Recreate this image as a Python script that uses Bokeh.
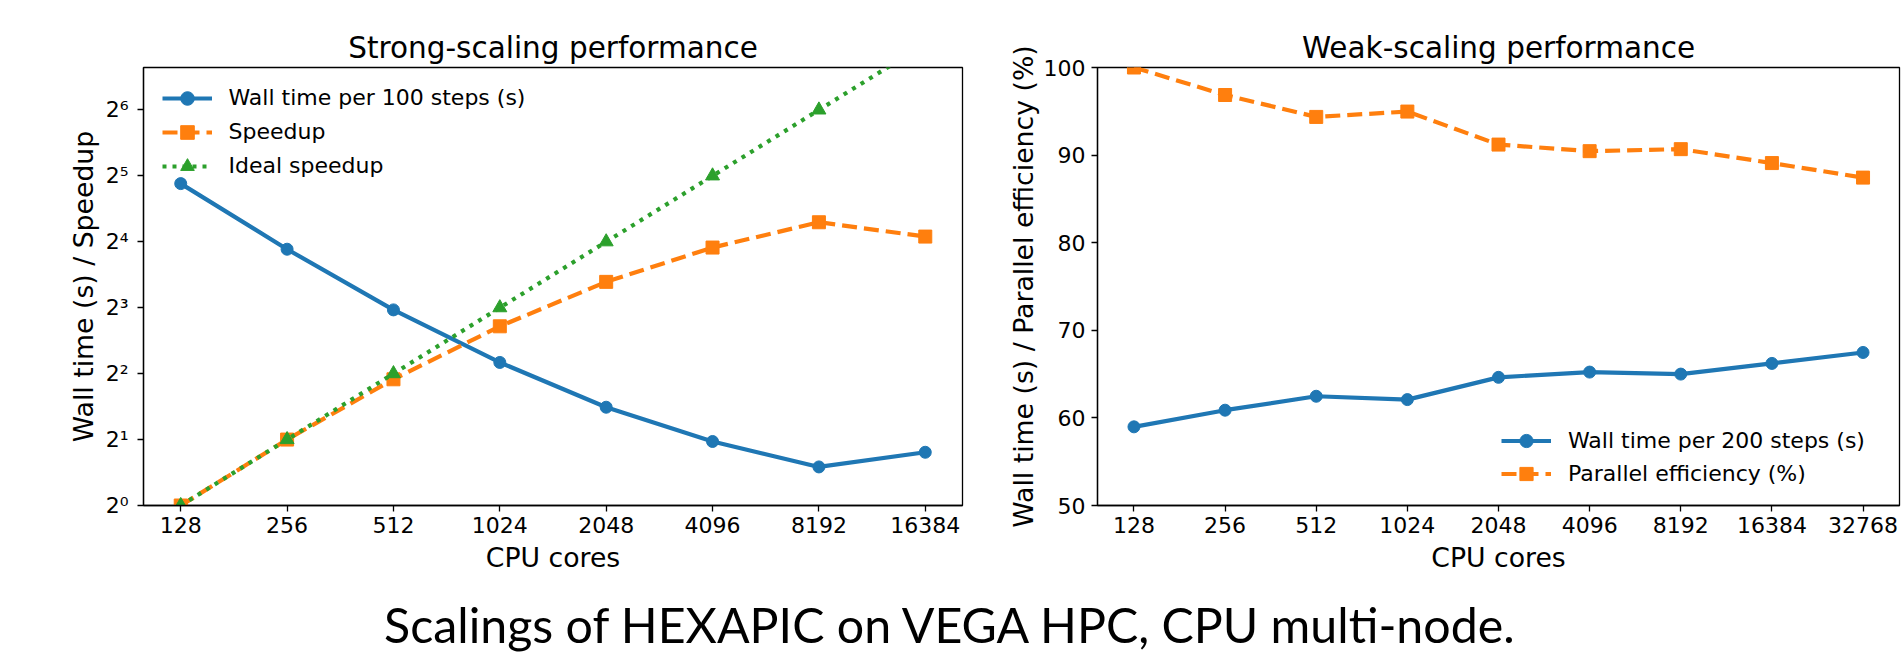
from bokeh.plotting import figure
from bokeh.layouts import row, column
from bokeh.models import (Range1d, FixedTicker, CustomJSTickFormatter, Legend,
                          LegendItem, Label)
from bokeh.embed import file_html
from bokeh.resources import INLINE

# ---------------- data ----------------
strong_cores = [128, 256, 512, 1024, 2048, 4096, 8192, 16384]
strong_wall_time = [29.5, 14.8, 7.82, 4.50, 2.81, 1.96, 1.50, 1.75]
strong_speedup = [1.0, 2.0, 3.77, 6.58, 10.5, 15.06, 19.65, 16.9]
strong_ideal = [1, 2, 4, 8, 16, 32, 64, 128]
strong_xtick_labels = ["128", "256", "512", "1024", "2048", "4096", "8192", "16384"]
strong_ytick_values = [1, 2, 4, 8, 16, 32, 64]
strong_ytick_labels = ["2⁰", "2¹", "2²", "2³", "2⁴", "2⁵", "2⁶"]

weak_cores = [128, 256, 512, 1024, 2048, 4096, 8192, 16384, 32768]
weak_wall_time = [58.98, 60.88, 62.47, 62.09, 64.63, 65.23, 65.0, 66.22, 67.47]
weak_efficiency = [100.0, 96.86, 94.36, 94.97, 91.2, 90.45, 90.68, 89.09, 87.43]
weak_xtick_labels = ["128", "256", "512", "1024", "2048", "4096", "8192", "16384", "32768"]
weak_ytick_values = [50, 60, 70, 80, 90, 100]
weak_ytick_labels = ["50", "60", "70", "80", "90", "100"]

BLUE = "#1f77b4"
ORANGE = "#ff7f0e"
GREEN = "#2ca02c"
FONT = "DejaVu Sans"


def label_formatter(tick_values, tick_labels):
    return CustomJSTickFormatter(args=dict(tvals=tick_values, tlabels=tick_labels), code="""
        for (let i = 0; i < tvals.length; i++) {
            if (Math.abs(tvals[i] - tick) < 1e-9 * Math.max(1, Math.abs(tick))) return tlabels[i];
        }
        return '';
    """)


def style(p, title):
    p.title.text = title
    p.title.align = "center"
    p.title.text_font = FONT
    p.title.text_font_size = "29.5px"
    p.title.text_font_style = "normal"
    p.title.text_color = "black"
    p.title.standoff = 5
    p.xgrid.visible = False
    p.ygrid.visible = False
    p.outline_line_color = "black"
    p.outline_line_width = 1.3
    p.background_fill_color = "white"
    p.border_fill_color = "white"
    for ax in (p.xaxis[0], p.yaxis[0]):
        ax.axis_line_color = "black"
        ax.axis_line_width = 1.3
        ax.major_tick_line_color = "black"
        ax.major_tick_line_width = 1.3
        ax.major_tick_out = 6
        ax.major_tick_in = 0
        ax.minor_tick_line_color = None
        ax.major_label_text_font = FONT
        ax.major_label_text_font_size = "22px"
        ax.major_label_text_color = "black"
        ax.axis_label_text_font = FONT
        ax.axis_label_text_font_size = "26.7px"
        ax.axis_label_text_font_style = "normal"
        ax.axis_label_text_color = "black"
    p.xaxis[0].major_label_standoff = 5
    p.xaxis[0].axis_label_standoff = 6


# ---------------- strong scaling ----------------
p1 = figure(width=980, height=575, output_backend="svg", toolbar_location=None,
            x_axis_type="log", y_axis_type="log",
            x_range=Range1d(2 ** 6.65, 2 ** 14.35), y_range=Range1d(1, 100))
p1.min_border_left = 143
p1.min_border_right = 18
p1.min_border_top = 67
p1.min_border_bottom = 68
style(p1, "Strong-scaling performance")
p1.yaxis[0].major_label_standoff = 9
p1.yaxis[0].axis_label_standoff = 4
p1.xaxis[0].ticker = FixedTicker(ticks=strong_cores)
p1.xaxis[0].formatter = label_formatter(strong_cores, strong_xtick_labels)
p1.yaxis[0].ticker = FixedTicker(ticks=strong_ytick_values)
p1.yaxis[0].formatter = label_formatter(strong_ytick_values, strong_ytick_labels)
p1.xaxis[0].axis_label = "CPU cores"
p1.yaxis[0].axis_label = "Wall time (s) / Speedup"

l1 = p1.line(strong_cores, strong_wall_time, line_color=BLUE, line_width=4.2)
s1 = p1.scatter(strong_cores, strong_wall_time, marker="circle", size=12,
                fill_color=BLUE, line_color=BLUE)
l2 = p1.line(strong_cores, strong_speedup, line_color=ORANGE, line_width=4.2,
             line_dash="15 7")
s2 = p1.scatter(strong_cores, strong_speedup, marker="square", size=13,
                fill_color=ORANGE, line_color=ORANGE)
l3 = p1.line(strong_cores, strong_ideal, line_color=GREEN, line_width=4.2,
             line_dash="4 6")
s3 = p1.scatter(strong_cores, strong_ideal, marker="triangle", size=14,
                fill_color=GREEN, line_color=GREEN)

leg1 = Legend(items=[LegendItem(label="Wall time per 100 steps (s)", renderers=[l1, s1]),
                     LegendItem(label="Speedup", renderers=[l2, s2]),
                     LegendItem(label="Ideal speedup", renderers=[l3, s3])],
              location=(18.5, 322.4), glyph_width=50, glyph_height=34, label_standoff=17,
              spacing=0, padding=10, margin=0, border_line_color=None,
              background_fill_alpha=0, label_text_font=FONT,
              label_text_font_size="22px", label_text_color="black")
p1.add_layout(leg1)

# ---------------- weak scaling ----------------
p2 = figure(width=923, height=575, output_backend="svg", toolbar_location=None,
            x_axis_type="log",
            x_range=Range1d(2 ** 6.6, 2 ** 15.4), y_range=Range1d(50, 100))
p2.min_border_left = 117
p2.min_border_right = 4
p2.min_border_top = 67
p2.min_border_bottom = 68
style(p2, "Weak-scaling performance")
p2.yaxis[0].major_label_standoff = 6
p2.yaxis[0].axis_label_standoff = 2
p2.xaxis[0].ticker = FixedTicker(ticks=weak_cores)
p2.xaxis[0].formatter = label_formatter(weak_cores, weak_xtick_labels)
p2.yaxis[0].ticker = FixedTicker(ticks=weak_ytick_values)
p2.yaxis[0].formatter = label_formatter(weak_ytick_values, weak_ytick_labels)
p2.xaxis[0].axis_label = "CPU cores"
p2.yaxis[0].axis_label = "Wall time (s) / Parallel efficiency (%)"

w1 = p2.line(weak_cores, weak_wall_time, line_color=BLUE, line_width=4.2)
ws1 = p2.scatter(weak_cores, weak_wall_time, marker="circle", size=12,
                 fill_color=BLUE, line_color=BLUE)
w2 = p2.line(weak_cores, weak_efficiency, line_color=ORANGE, line_width=4.2,
             line_dash="15 7")
ws2 = p2.scatter(weak_cores, weak_efficiency, marker="square", size=13,
                 fill_color=ORANGE, line_color=ORANGE)

leg2 = Legend(items=[LegendItem(label="Wall time per 200 steps (s)", renderers=[w1, ws1]),
                     LegendItem(label="Parallel efficiency (%)", renderers=[w2, ws2])],
              location=(404, 15), glyph_width=50, glyph_height=33, label_standoff=17,
              spacing=0, padding=10, margin=0, border_line_color=None,
              background_fill_alpha=0, label_text_font=FONT,
              label_text_font_size="22px", label_text_color="black")
p2.add_layout(leg2)

# ---------------- super title ----------------
p3 = figure(width=1903, height=78, output_backend="svg", toolbar_location=None,
            x_range=Range1d(0, 1903), y_range=Range1d(0, 78),
            x_axis_location=None, y_axis_location=None)
p3.min_border = 0
p3.min_border_left = 0
p3.min_border_right = 0
p3.min_border_top = 0
p3.min_border_bottom = 0
p3.outline_line_color = None
p3.xgrid.visible = False
p3.ygrid.visible = False
p3.add_layout(Label(x=951, y=30, text="Scalings of HEXAPIC on VEGA HPC, CPU multi-node.",
                    text_align="center", text_baseline="middle",
                    text_font="Lato", text_font_size="48.3px", text_color="black"))

layout = column(row(p1, p2), p3)
open("out.html", "w").write(file_html(layout, INLINE))
